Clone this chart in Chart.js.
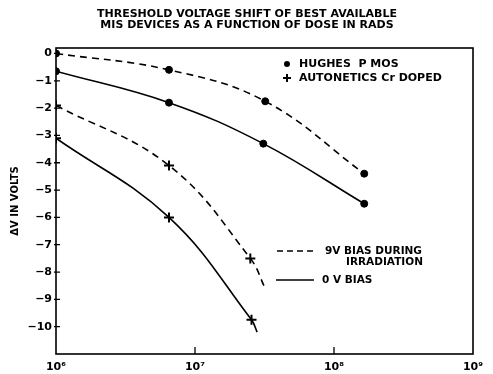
<!DOCTYPE html>
<html lang="en">
<head>
  <meta charset="UTF-8">
  <title>Threshold voltage shift vs dose</title>
  <script src="https://cdn.jsdelivr.net/npm/chart.js"></script>
  <style>
    html, body { margin: 0; padding: 0; background: #fff; }
    .wrap { position: relative; width: 493px; height: 374px; }
  </style>
</head>
<body>
  <div class="wrap"><canvas id="myChart" width="493" height="374"></canvas></div>
  <script>
    const titleLines = ['THRESHOLD VOLTAGE SHIFT OF BEST AVAILABLE', 'MIS DEVICES AS A FUNCTION OF DOSE IN RADS'];
    const yTitle = '\u0394V IN VOLTS';
    const xTickValues = [1e6, 1e7, 1e8, 1e9];
    const xTickLabels = ['10\u2076', '10\u2077', '10\u2078', '10\u2079'];
    const yTickValues = [0, -1, -2, -3, -4, -5, -6, -7, -8, -9, -10];

    // Hughes P MOS (dots)
    const hughesDose9V = [1e6, 6.5e6, 3.2e7, 1.65e8];
    const hughesShift9V = [0, -0.6, -1.75, -4.4];
    const hughesDose0V = [1e6, 6.5e6, 3.1e7, 1.65e8];
    const hughesShift0V = [-0.65, -1.8, -3.3, -5.5];

    // Autonetics Cr doped (crosses); last point of each curve has no marker
    const autoDose9V = [1e6, 6.5e6, 2.5e7, 3.2e7];
    const autoShift9V = [-1.9, -4.1, -7.5, -8.6];
    const autoDose0V = [1e6, 6.5e6, 2.55e7, 2.8e7];
    const autoShift0V = [-3.1, -6.0, -9.75, -10.2];
    const autoMarked = [true, true, true, false];

    const markerLabels = ['HUGHES  P MOS', 'AUTONETICS Cr DOPED'];
    const lineLabels = [['9V BIAS DURING', 'IRRADIATION'], ['0 V BIAS']];

    const pts = (xs, ys) => xs.map((x, i) => ({ x: x, y: ys[i] }));
    const FONT = '"DejaVu Sans", sans-serif';
    const DASH = [7, 5];

    const boxAndLegend = {
      id: 'boxAndLegend',
      afterDraw(chart) {
        const c = chart.ctx;
        const a = chart.chartArea;
        const xs = chart.scales.x;
        const ys = chart.scales.y;
        c.save();

        // title
        c.fillStyle = '#000';
        c.font = 'bold 11px ' + FONT;
        c.textAlign = 'center';
        c.textBaseline = 'middle';
        c.fillText(titleLines[0], 247, 14);
        c.fillText(titleLines[1], 247, 25);
        c.textAlign = 'left';

        c.strokeStyle = '#000';
        c.lineWidth = 1.6;
        c.setLineDash([]);
        c.strokeRect(a.left, a.top, a.right - a.left, a.bottom - a.top);

        // inward ticks
        c.lineWidth = 1.3;
        c.beginPath();
        yTickValues.forEach(v => {
          const y = ys.getPixelForValue(v);
          c.moveTo(a.left - 2, y);
          c.lineTo(a.left + 4, y);
        });
        xTickValues.slice(1, 3).forEach(v => {
          const x = xs.getPixelForValue(v);
          c.moveTo(x, a.bottom);
          c.lineTo(x, a.bottom - 7);
        });
        c.stroke();

        // marker legend
        c.font = 'bold 11px ' + FONT;
        c.beginPath();
        c.arc(287, 64, 3, 0, Math.PI * 2);
        c.fill();
        c.fillText(markerLabels[0], 299, 64);
        c.lineWidth = 2;
        c.beginPath();
        c.moveTo(283, 78); c.lineTo(291, 78);
        c.moveTo(287, 74); c.lineTo(287, 82);
        c.stroke();
        c.fillText(markerLabels[1], 299, 78);

        // line style legend
        c.lineWidth = 1.5;
        c.setLineDash([6, 4]);
        c.beginPath();
        c.moveTo(277, 251); c.lineTo(316, 251);
        c.stroke();
        c.setLineDash([]);
        c.beginPath();
        c.moveTo(276, 280); c.lineTo(314, 280);
        c.stroke();
        c.font = 'bold 10.5px ' + FONT;
        c.fillText(lineLabels[0][0], 325, 251);
        c.fillText(lineLabels[0][1], 346, 262);
        c.fillText(lineLabels[1][0], 322, 280);
        c.restore();
      }
    };

    const series = (data, dashed, style, marked) => ({
      data: data,
      borderColor: '#000',
      backgroundColor: '#000',
      borderWidth: 1.6,
      borderDash: dashed ? DASH : [],
      tension: 0.4,
      pointStyle: style,
      pointRadius: marked ? marked.map(m => m ? (style === 'cross' ? 5 : 3.5) : 0) : 3.5,
      pointBorderWidth: style === 'cross' ? 2 : 1,
      fill: false
    });

    const myChart = new Chart(document.getElementById('myChart'), {
      type: 'line',
      data: {
        datasets: [
          series(pts(hughesDose9V, hughesShift9V), true, 'circle'),
          series(pts(hughesDose0V, hughesShift0V), false, 'circle'),
          series(pts(autoDose9V, autoShift9V), true, 'cross', autoMarked),
          series(pts(autoDose0V, autoShift0V), false, 'cross', autoMarked)
        ]
      },
      options: {
        responsive: false,
        animation: false,
        layout: { padding: { left: 0, right: 20, top: 48, bottom: 0 } },
        plugins: {
          legend: { display: false },
          tooltip: { enabled: false },
          title: { display: false }
        },
        scales: {
          x: {
            type: 'logarithmic',
            min: 1e6,
            max: 1e9,
            afterBuildTicks: (s) => { s.ticks = xTickValues.map(v => ({ value: v })); },
            afterFit: (s) => { s.height = 20; },
            ticks: {
              color: '#000',
              autoSkip: false,
              maxRotation: 0,
              padding: 7,
              font: { family: FONT, size: 11, weight: 'bold' },
              callback: (v) => xTickLabels[xTickValues.indexOf(v)]
            },
            grid: { display: false, drawTicks: false, tickLength: 0 },
            border: { display: false }
          },
          y: {
            min: -11,
            max: 0.2,
            afterBuildTicks: (s) => { s.ticks = yTickValues.map(v => ({ value: v })); },
            afterFit: (s) => { s.width = 56; },
            ticks: {
              color: '#000',
              padding: 4,
              font: { family: FONT, size: 11, weight: 'bold' },
              callback: (v) => v === 0 ? '0' : '\u2212' + Math.abs(v)
            },
            title: {
              display: true,
              text: yTitle,
              color: '#000',
              font: { family: FONT, size: 10, weight: 'bold' },
              padding: { top: 9, bottom: 0 }
            },
            grid: { display: false, drawTicks: false, tickLength: 0 },
            border: { display: false }
          }
        }
      },
      plugins: [boxAndLegend]
    });
  </script>
</body>
</html>
